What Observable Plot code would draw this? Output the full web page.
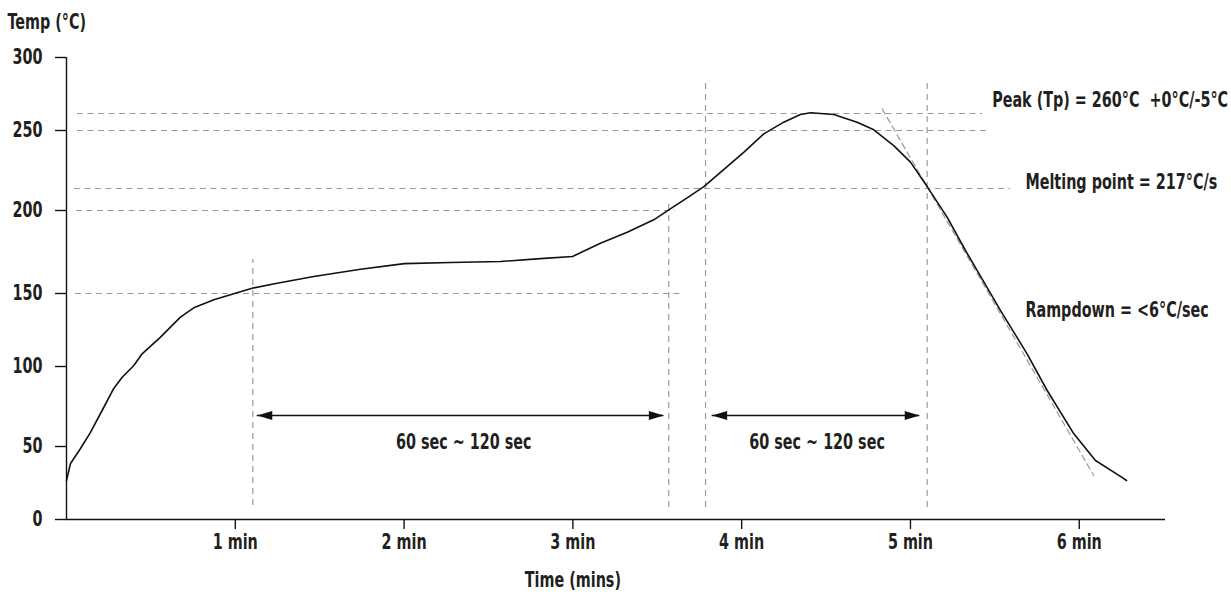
<!DOCTYPE html>
<html><head><meta charset="utf-8">
<script src="https://cdn.jsdelivr.net/npm/d3@7"></script>
<script src="https://cdn.jsdelivr.net/npm/@observablehq/plot@0.6"></script>
<style>
html,body{margin:0;padding:0;background:#fff;}
#chart svg{display:block;}
</style></head><body><div id="chart"></div>
<script>
// ---- data ----
const timeMin = [0, 0.024, 0.083, 0.142, 0.211, 0.280, 0.330, 0.399, 0.448, 0.557, 0.675, 0.754, 0.873, 0.991, 1.110, 1.248, 1.465, 1.742, 2.002, 2.275, 2.571, 2.808, 2.998, 3.163, 3.322, 3.479, 3.568, 3.677, 3.776, 3.914, 4.012, 4.131, 4.249, 4.348, 4.408, 4.546, 4.684, 4.783, 4.901, 5.000, 5.099, 5.217, 5.326, 5.533, 5.691, 5.810, 5.968, 6.096, 6.244, 6.280];
const tempC   = [26.7, 38.4, 48.6, 58.8, 72.5, 86.3, 93.3, 100.7, 108.7, 120.1, 133.8, 140.2, 145.7, 149.8, 153.4, 156.2, 160.2, 164.6, 168.0, 168.7, 169.3, 171.0, 172.3, 180.3, 186.9, 194.4, 200.5, 209.8, 218.1, 229.5, 237.6, 248.1, 254.9, 259.4, 260.5, 259.4, 254.9, 250.4, 241.4, 232.0, 218.1, 196.0, 175.9, 138.4, 108.7, 85.0, 57.9, 40.4, 29.5, 26.7];

const xTicks = [1, 2, 3, 4, 5, 6];
const yTicks = [0, 50, 100, 150, 200, 250, 300];

// reference temperatures (horizontal dashed guides) and their time extents
const hLineTemp  = [260, 250, 217, 200, 150];
const hLineFrom  = [0.065, 0.065, 0.047, 0.059, 0.053];
const hLineTo    = [5.427, 5.474, 5.593, 3.608, 3.637];

// vertical dashed guides (time, temp extent)
const vLineTime  = [1.104, 3.568, 3.786, 5.099];
const vLineLow   = [9.6, 8.2, 8.2, 8.2];
const vLineHigh  = [170.5, 205.2, 282.1, 282.1];

// ramp-down tangent guide
const tangentTime = [4.832, 6.086];
const tangentTemp = [263.4, 30.1];

// duration arrows
const arrowTemp  = [69.4, 69.4];
const arrowFrom  = [1.130, 3.825];
const arrowTo    = [3.539, 5.055];
const arrowLabel = ["60 sec ~ 120 sec", "60 sec ~ 120 sec"];
const arrowLabelTime = [2.354, 4.447];
const arrowLabelTemp = [52.7, 52.7];

// annotations on the right
const noteText = ["Peak (Tp) = 260°C\u00a0 +0°C/-5°C", "Melting point = 217°C/s", "Rampdown = <6°C/sec"];
const noteTime = [5.484, 5.681, 5.681];
const noteTemp = [269.8, 220.6, 138.4];

const yTitle = "Temp (°C)";
const xTitle = "Time (mins)";

// ---- build tables ----
const curve = timeMin.map((t, i) => ({t, c: tempC[i]}));
const hLines = hLineTemp.map((c, i) => ({c, x1: hLineFrom[i], x2: hLineTo[i]}));
const vLines = vLineTime.map((t, i) => ({t, y1: vLineLow[i], y2: vLineHigh[i]}));
const tangent = tangentTime.map((t, i) => ({t, c: tangentTemp[i]}));
const arrows = arrowTemp.map((c, i) => ({c, x1: arrowFrom[i], x2: arrowTo[i]}));
const arrowLabels = arrowLabel.map((s, i) => ({s, t: arrowLabelTime[i], c: arrowLabelTemp[i]}));
const notes = noteText.map((s, i) => ({s, t: noteTime[i], c: noteTemp[i]}));

const FONT = '"Liberation Sans Narrow","DejaVu Sans Condensed","Arial Narrow",sans-serif';
const INK = "#231f20";
const GUIDE = "#9a9a9a";

const headRight = {draw(ctx) { ctx.moveTo(0, 0); ctx.lineTo(-15, -4.5); ctx.lineTo(-15, 4.5); ctx.closePath(); }};
const headLeft  = {draw(ctx) { ctx.moveTo(0, 0); ctx.lineTo(15, -4.5); ctx.lineTo(15, 4.5); ctx.closePath(); }};

const chart = Plot.plot({
  width: 1231,
  height: 600,
  marginLeft: 66,
  marginRight: 66,
  marginTop: 57,
  marginBottom: 81,
  style: {fontFamily: FONT, fontSize: "21px", fontWeight: "bold", color: INK, background: "#fff"},
  x: {domain: [0, 6.511]},
  y: {type: "linear", domain: [0, 50, 100, 150, 200, 217, 250, 260, 300], range: [519, 446, 366, 293, 210, 188, 130, 113, 57]},
  marks: [
    Plot.ruleY(hLines, {y: "c", x1: "x1", x2: "x2", stroke: GUIDE, strokeWidth: 1.2, strokeDasharray: "6,4.5"}),
    Plot.ruleX(vLines, {x: "t", y1: "y1", y2: "y2", stroke: GUIDE, strokeWidth: 1.2, strokeDasharray: "6,5"}),
    Plot.line(tangent, {x: "t", y: "c", stroke: GUIDE, strokeWidth: 1.2, strokeDasharray: "6,4"}),
    Plot.line(curve, {x: "t", y: "c", stroke: "#111", strokeWidth: 1.6, curve: "linear"}),
    Plot.ruleY(arrows, {y: "c", x1: "x1", x2: "x2", stroke: "#111", strokeWidth: 1.6}),
    Plot.dot(arrows, {x: "x1", y: "c", symbol: headLeft, fill: "#111", stroke: "none"}),
    Plot.dot(arrows, {x: "x2", y: "c", symbol: headRight, fill: "#111", stroke: "none"}),
    Plot.text(arrowLabels, {x: "t", y: "c", text: "s", fontSize: 21, fontWeight: "bold", fill: INK, textAnchor: "middle", lineAnchor: "middle"}),
    Plot.text(notes, {x: "t", y: "c", text: "s", fontSize: 21, fontWeight: "bold", fill: INK, textAnchor: "start", lineAnchor: "middle"}),
    Plot.ruleX([0], {stroke: "#111", strokeWidth: 1.4}),
    Plot.ruleY([0], {stroke: "#111", strokeWidth: 1.4}),
    Plot.axisY({ticks: yTicks, tickSize: 11, tickPadding: 13, label: null, fontSize: 21, fontWeight: "bold", stroke: "#111", strokeWidth: 1.4}),
    Plot.axisX({ticks: xTicks, tickFormat: d => `${d} min`, tickSize: 10, tickPadding: 5, label: null, fontSize: 21, fontWeight: "bold", stroke: "#111", strokeWidth: 1.4}),
    Plot.text([yTitle], {text: d => d, frameAnchor: "top-left", dx: -59, dy: -35, textAnchor: "start", lineAnchor: "middle", fontSize: 21, fontWeight: "bold", fill: INK}),
    Plot.text([xTitle], {x: () => 3, text: d => d, frameAnchor: "bottom", dy: 61, textAnchor: "middle", lineAnchor: "middle", fontSize: 21, fontWeight: "bold", fill: INK})
  ]
});
document.getElementById("chart").appendChild(chart);

// emulate the condensed typeface of the original: squeeze every label horizontally
chart.querySelectorAll("text").forEach(el => {
  const w = el.getComputedTextLength();
  if (w > 0) {
    el.setAttribute("textLength", (w * 0.76).toFixed(1));
    el.setAttribute("lengthAdjust", "spacingAndGlyphs");
  }
});
</script>
</body></html>
